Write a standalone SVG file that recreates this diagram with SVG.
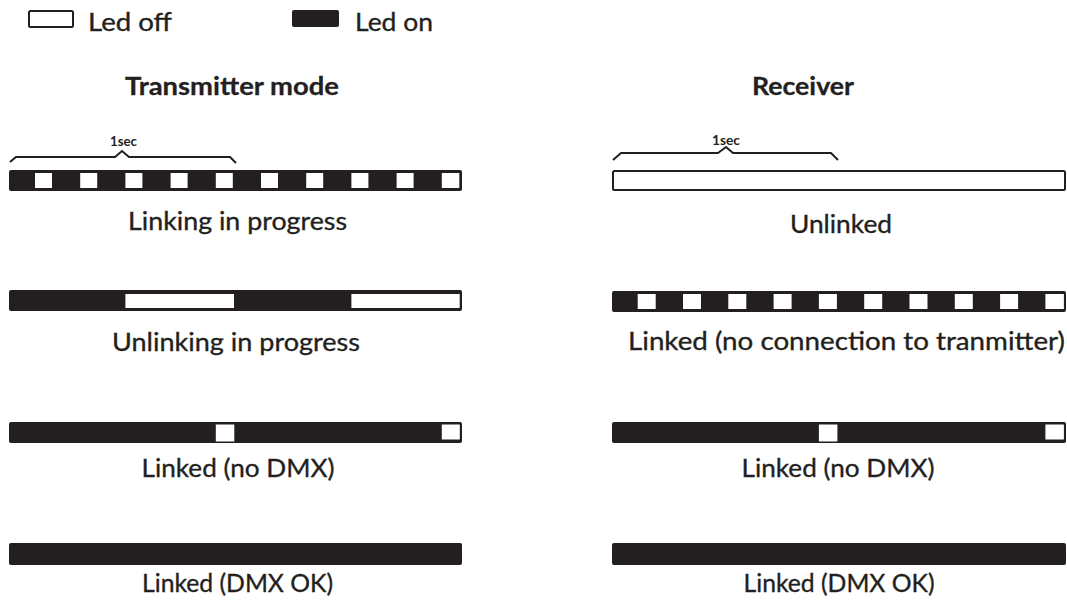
<svg xmlns="http://www.w3.org/2000/svg" width="1067" height="616" viewBox="0 0 1067 616">
<style>
.bar{fill:#231f20}
.off{fill:#ffffff}
.frame{fill:#ffffff;stroke:#231f20;stroke-width:2}
.lbl{font-family:Lato,"Open Sans","Liberation Sans",sans-serif;font-size:25px;fill:#231f20;stroke:#231f20;stroke-width:0.35;text-anchor:middle}
.hdr{font-family:Lato,"Open Sans","Liberation Sans",sans-serif;font-size:25px;font-weight:700;fill:#231f20;stroke:#231f20;stroke-width:0.3;text-anchor:middle}
.sec{font-family:Lato,"Open Sans","Liberation Sans",sans-serif;font-size:13px;font-weight:700;fill:#231f20;text-anchor:middle}
.leg{font-family:Lato,"Open Sans","Liberation Sans",sans-serif;font-size:25px;fill:#231f20;stroke:#231f20;stroke-width:0.35}
.brace{fill:none;stroke:#231f20;stroke-width:2;stroke-linejoin:miter}
</style>
<rect width="1067" height="616" fill="#ffffff"/>
<g id="legend">
  <rect class="frame" x="29" y="11" width="44" height="16" rx="1.5"/>
  <text class="leg" x="88" y="31" textLength="84" lengthAdjust="spacingAndGlyphs">Led off</text>
  <rect class="bar" x="292" y="10" width="47" height="17" rx="2"/>
  <text class="leg" x="355" y="31" textLength="78" lengthAdjust="spacingAndGlyphs">Led on</text>
</g>
<g id="headers">
  <text class="hdr" x="232" y="95" textLength="214" lengthAdjust="spacingAndGlyphs">Transmitter mode</text>
  <text class="hdr" x="803" y="95" textLength="102" lengthAdjust="spacingAndGlyphs">Receiver</text>
</g>
<g id="connectors">
  <path class="brace" d="M10,162 L16,157 L115,157 L122,151 L129,157 L230,157 L236,163"/>
  <text class="sec" x="123.5" y="146" textLength="27" lengthAdjust="spacingAndGlyphs">1sec</text>
  <path class="brace" d="M613,160 L621,153 L718,153 L726,147 L733,153 L831,153 L838,160"/>
  <text class="sec" x="726" y="145" textLength="28" lengthAdjust="spacingAndGlyphs">1sec</text>
</g>
<g id="tx-linking">
  <rect class="bar" x="9" y="170" width="453" height="21" rx="2"/>
  <rect class="off" x="35" y="173" width="17" height="15"/>
  <rect class="off" x="80.2" y="173" width="17" height="15"/>
  <rect class="off" x="125.4" y="173" width="17" height="15"/>
  <rect class="off" x="170.6" y="173" width="17" height="15"/>
  <rect class="off" x="215.8" y="173" width="17" height="15"/>
  <rect class="off" x="261" y="173" width="17" height="15"/>
  <rect class="off" x="306.2" y="173" width="17" height="15"/>
  <rect class="off" x="351.4" y="173" width="17" height="15"/>
  <rect class="off" x="396.6" y="173" width="17" height="15"/>
  <rect class="off" x="441.8" y="173" width="17.5" height="15"/>
  <text class="lbl" x="237.5" y="230" textLength="219" lengthAdjust="spacingAndGlyphs">Linking in progress</text>
</g>
<g id="tx-unlinking">
  <rect class="bar" x="9" y="290" width="453" height="21" rx="2"/>
  <rect class="off" x="125.4" y="294" width="108.6" height="14"/>
  <rect class="off" x="351.4" y="294" width="108.3" height="14"/>
  <text class="lbl" x="236" y="351" textLength="248" lengthAdjust="spacingAndGlyphs">Unlinking in progress</text>
</g>
<g id="tx-nodmx">
  <rect class="bar" x="9" y="422" width="453" height="21" rx="2"/>
  <rect class="off" x="215.8" y="424.5" width="18.5" height="17"/>
  <rect class="off" x="441.8" y="424.5" width="18" height="15"/>
  <text class="lbl" x="238" y="477" textLength="193" lengthAdjust="spacingAndGlyphs">Linked (no DMX)</text>
</g>
<g id="tx-dmxok">
  <rect class="bar" x="9" y="543" width="453" height="22" rx="2"/>
  <text class="lbl" x="237.5" y="592" textLength="191" lengthAdjust="spacingAndGlyphs">Linked (DMX OK)</text>
</g>
<g id="rx-unlinked">
  <rect class="frame" x="613" y="171" width="452" height="19" rx="1.5"/>
  <text class="lbl" x="841" y="233" textLength="102" lengthAdjust="spacingAndGlyphs">Unlinked</text>
</g>
<g id="rx-noconnection">
  <rect class="bar" x="612" y="291" width="454" height="21" rx="2"/>
  <rect class="off" x="637.7" y="294" width="18" height="15"/>
  <rect class="off" x="683" y="294" width="18" height="15"/>
  <rect class="off" x="728.3" y="294" width="18" height="15"/>
  <rect class="off" x="773.6" y="294" width="18" height="15"/>
  <rect class="off" x="818.9" y="294" width="18" height="15"/>
  <rect class="off" x="864.2" y="294" width="18" height="15"/>
  <rect class="off" x="909.5" y="294" width="18" height="15"/>
  <rect class="off" x="954.8" y="294" width="18" height="15"/>
  <rect class="off" x="1000.1" y="294" width="18" height="15"/>
  <rect class="off" x="1045.4" y="294" width="18.5" height="15"/>
  <text class="lbl" x="846.5" y="350" textLength="437" lengthAdjust="spacingAndGlyphs">Linked (no connection to tranmitter)</text>
</g>
<g id="rx-nodmx">
  <rect class="bar" x="612" y="422" width="454" height="21" rx="2"/>
  <rect class="off" x="818.9" y="424.5" width="18.5" height="17"/>
  <rect class="off" x="1045.4" y="424.5" width="18.5" height="15"/>
  <text class="lbl" x="838" y="477" textLength="193" lengthAdjust="spacingAndGlyphs">Linked (no DMX)</text>
</g>
<g id="rx-dmxok">
  <rect class="bar" x="612" y="543" width="454" height="22" rx="2"/>
  <text class="lbl" x="839" y="592" textLength="191" lengthAdjust="spacingAndGlyphs">Linked (DMX OK)</text>
</g>
</svg>
